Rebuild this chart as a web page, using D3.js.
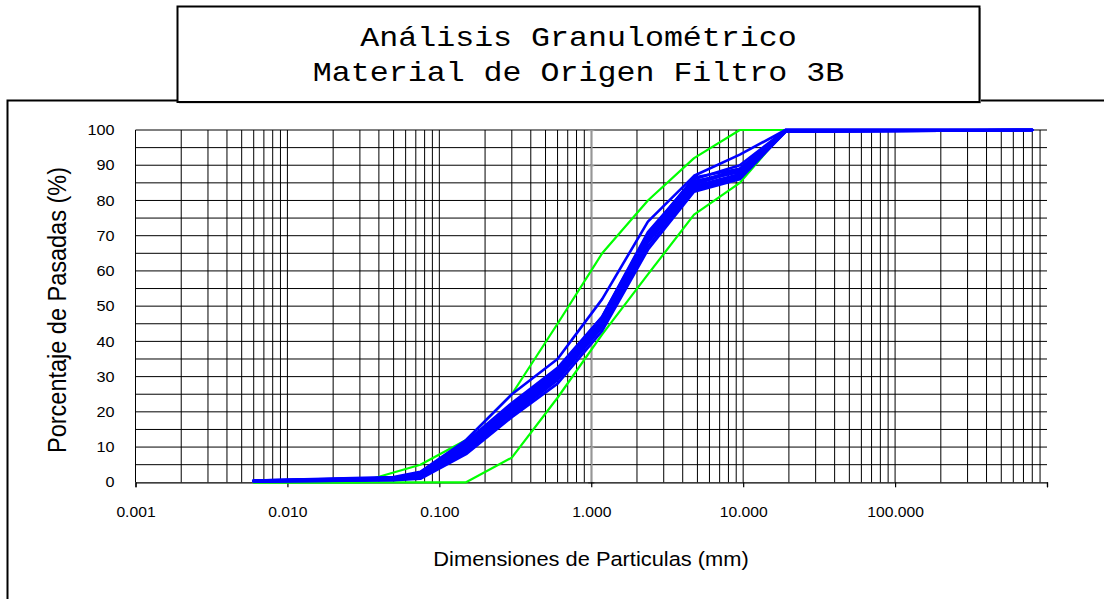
<!DOCTYPE html>
<html>
<head>
<meta charset="utf-8">
<script src="https://cdn.jsdelivr.net/npm/d3@7"></script>
<style>
  html, body { margin: 0; padding: 0; background: #fff; }
  svg { display: block; }
</style>
</head>
<body>
<svg id="chart" width="1104" height="599"></svg>
<script>
// ---------------- DATA ----------------
const titleLines = ["Análisis Granulométrico", "Material de Origen Filtro 3B"];
const yAxisTitle = "Porcentaje de Pasadas (%)";
const xAxisTitle = "Dimensiones de Particulas (mm)";

const xTicks = [0.001, 0.01, 0.1, 1, 10, 100];
const yTicks = [0, 10, 20, 30, 40, 50, 60, 70, 80, 90, 100];

// tamaños de tamiz (mm) de los ensayos
const tamices = [0.006, 0.05, 0.075, 0.15, 0.3, 0.6, 1.18, 2.36, 4.75, 9.5, 19, 800];

// curvas granulométricas de las muestras (% que pasa)
const muestra1  = [0.5, 1.5, 3.0, 12.0, 25.0, 35.0, 52.0, 74.0, 87.0, 93.0, 100, 100];
const muestra2  = [0.5, 1.2, 2.5, 11.0, 22.0, 32.0, 47.0, 71.0, 86.0, 90.0, 100, 100];
const muestra3  = [0.4, 1.0, 2.0, 10.0, 21.0, 31.0, 46.0, 70.0, 85.0, 89.0, 100, 100];
const muestra4  = [0.3, 0.9, 2.0,  9.5, 20.5, 30.5, 45.5, 69.0, 84.5, 88.5, 99.8, 100];
const muestra5  = [0.5, 1.3, 2.5, 10.5, 21.5, 31.5, 46.0, 69.5, 85.5, 88.0, 100, 100];
const muestra6  = [0.3, 0.8, 1.5,  9.0, 20.0, 30.0, 45.0, 68.5, 84.0, 87.5, 99.5, 100];
const muestra7  = [0.4, 1.1, 2.2,  9.0, 19.5, 29.5, 44.5, 68.0, 83.5, 87.0, 99.6, 100];
const muestra8  = [0.2, 0.7, 1.3,  8.5, 19.0, 29.0, 44.0, 67.0, 83.0, 86.5, 99.5, 100];
const muestra9  = [0.2, 0.6, 1.0,  8.0, 18.5, 28.0, 43.0, 66.0, 82.5, 86.0, 99.5, 100];
const muestra10 = [0.4, 1.2, 2.8, 11.5, 22.5, 32.5, 47.0, 70.5, 86.5, 89.0, 100, 100];
const muestras = [muestra1, muestra2, muestra3, muestra4, muestra5,
                  muestra6, muestra7, muestra8, muestra9, muestra10];

// banda granulométrica (límites)
const limSupTamices = [0.006, 0.03, 0.075, 0.15, 0.3, 0.6, 1.18, 2.36, 4.75, 9.5, 800];
const limSupValores = [0, 0, 5, 12, 25, 45, 65, 80, 92, 100, 100];
const limInfTamices = [0.006, 0.15, 0.3, 0.6, 1.18, 2.36, 4.75, 9.5, 19, 800];
const limInfValores = [0, 0, 7, 24, 42, 59, 76, 85, 100, 100];

// ---------------- DRAW ----------------
const SX = 1.12; // horizontal stretch of the original text rendering
const svg = d3.select("#chart");

const x = d3.scaleLog().domain([0.001, 1000]).range([135.5, 1047]);
const y = d3.scaleLinear().domain([0, 100]).range([482.3, 130]);

// chart area frame
svg.append("path")
  .attr("d", "M7.5,600 L7.5,100.5 L1105,100.5")
  .attr("fill", "none").attr("stroke", "#000").attr("stroke-width", 2);

// title box (with light shadow)
svg.append("rect").attr("x", 179).attr("y", 8).attr("width", 802).attr("height", 95.5)
  .attr("fill", "#bbb");
svg.append("rect").attr("x", 177.5).attr("y", 6.5).attr("width", 802).attr("height", 95.5)
  .attr("fill", "#fff").attr("stroke", "#000").attr("stroke-width", 2);
const titleBaselines = [46, 81];
titleLines.forEach((t, i) => {
  svg.append("text")
    .attr("transform", `translate(578.5,${titleBaselines[i]}) scale(1.13,1)`)
    .attr("text-anchor", "middle")
    .attr("font-family", "'Liberation Mono', 'Courier New', monospace")
    .attr("font-size", 28)
    .attr("fill", "#000")
    .text(t);
});

// grid
const grid = svg.append("g");
const vLines = [];
xTicks.forEach(d => { for (let k = 1; k <= 9; k++) vLines.push(d * k); });
grid.selectAll("line.v").data(vLines).join("line")
  .attr("x1", d => x(d)).attr("x2", d => x(d))
  .attr("y1", y(100)).attr("y2", y(0))
  .attr("stroke", "#000").attr("stroke-width", 1);
const hLines = d3.range(5, 101, 5);
grid.selectAll("line.h").data(hLines).join("line")
  .attr("x1", x(0.001)).attr("x2", x(1000))
  .attr("y1", d => y(d)).attr("y2", d => y(d))
  .attr("stroke", "#000").attr("stroke-width", 1);

// value axis (gray) crossing at 1 mm
const yAxisL = svg.append("g").attr("transform", `translate(${x(1)},0)`)
  .call(d3.axisLeft(y).tickValues(yTicks).tickSize(3).tickFormat(""));
const yAxisR = svg.append("g").attr("transform", `translate(${x(1)},0)`)
  .call(d3.axisRight(y).tickValues(yTicks).tickSize(3).tickFormat(""));
[yAxisL, yAxisR].forEach(g => {
  g.selectAll("path,line").attr("stroke", "#999").attr("stroke-width", 1.2);
});

// y tick labels at the left
const yLab = svg.append("g").attr("transform", `translate(${x(0.001)},0)`)
  .call(d3.axisLeft(y).tickValues(yTicks).tickSize(0).tickPadding(21).tickFormat(d3.format("d")));
yLab.select(".domain").remove();
yLab.selectAll("text")
  .attr("font-family", "'Liberation Sans', Arial, sans-serif")
  .attr("font-size", 14.5).attr("fill", "#000")
  .attr("transform", `scale(${SX},1)`)
  .attr("x", -21 / SX);

// x axis at 0
const xAx = svg.append("g").attr("transform", `translate(0,${y(0)})`)
  .call(d3.axisBottom(x).tickValues(xTicks.concat([1000])).tickSize(5).tickPadding(20)
    .tickFormat(d => d === 1000 ? "" : d3.format(".3f")(d)));
xAx.select(".domain").attr("stroke", "#000").attr("stroke-width", 1.2);
xAx.selectAll("line").attr("stroke", "#000").attr("stroke-width", 1.2);
xAx.selectAll("text")
  .attr("font-family", "'Liberation Sans', Arial, sans-serif")
  .attr("font-size", 14).attr("fill", "#000")
  .attr("transform", `scale(${SX},1)`);

// curves
const line = d3.line().x(d => x(d[0])).y(d => y(d[1]));
const curves = svg.append("g").attr("fill", "none")
  .attr("stroke-linejoin", "round").attr("stroke-linecap", "round");
curves.append("path")
  .attr("d", line(limSupTamices.map((t, i) => [t, limSupValores[i]])))
  .attr("stroke", "#00ff00").attr("stroke-width", 2.2);
curves.append("path")
  .attr("d", line(limInfTamices.map((t, i) => [t, limInfValores[i]])))
  .attr("stroke", "#00ff00").attr("stroke-width", 2.2);
curves.selectAll("path.m").data(muestras).join("path")
  .attr("class", "m")
  .attr("d", s => line(tamices.map((t, i) => [t, s[i]])))
  .attr("stroke", "#0000ff").attr("stroke-width", 2.6);

// axis titles
svg.append("text")
  .attr("transform", `translate(66,310) scale(${SX},1) rotate(-90)`)
  .attr("text-anchor", "middle")
  .attr("font-family", "'Liberation Sans', Arial, sans-serif")
  .attr("font-size", 23.5).attr("fill", "#000")
  .text(yAxisTitle);
svg.append("text")
  .attr("transform", `translate(591,566) scale(${SX},1)`)
  .attr("text-anchor", "middle")
  .attr("font-family", "'Liberation Sans', Arial, sans-serif")
  .attr("font-size", 19.5).attr("fill", "#000")
  .text(xAxisTitle);
</script>
</body>
</html>
